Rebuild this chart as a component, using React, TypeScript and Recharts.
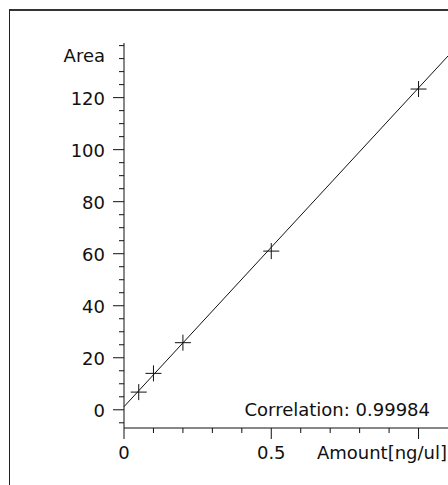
import { ComposedChart, Scatter, Line, XAxis, YAxis, Label } from 'recharts';

// calibration standards
const amounts = [0.05, 0.1, 0.2, 0.5, 1.0];
const areas = [6.8, 14, 25.8, 61, 123.3];

// fitted line end points (intercept ~1.2, slope ~122.6)
const fitX = [0, 1.1];
const fitY = [1.2, 136];

const xTicks = [0, 0.1, 0.2, 0.3, 0.4, 0.5, 0.6, 0.7, 0.8, 0.9, 1.0];
const xLabels = [0, 0.5];
const yTicks = [-5, 0, 5, 10, 15, 20, 25, 30, 35, 40, 45, 50, 55, 60, 65, 70, 75, 80, 85, 90, 95, 100, 105, 110, 115, 120, 125, 130, 135, 140];
const yLabels = [0, 20, 40, 60, 80, 100, 120];

const correlation = 'Correlation: 0.99984';

const points = amounts.map((x, i) => ({ x, y: areas[i] }));
const fitLine = fitX.map((x, i) => ({ x, y: fitY[i] }));

const ink = '#111';
const font = { fontFamily: '"DejaVu Sans", sans-serif', fontSize: 18, fill: ink };

const YTick = (props: any) => {
  const { x, y, payload } = props;
  const v = payload.value;
  const major = yLabels.includes(v);
  return (
    <g>
      <line x1={x - (major ? 11 : 5)} x2={x} y1={y} y2={y} stroke={ink} />
      {major && (
        <text x={x - 19} y={y} dy={7} textAnchor="end" {...font}>{v}</text>
      )}
    </g>
  );
};

const XTick = (props: any) => {
  const { x, y, payload } = props;
  const v = payload.value;
  const major = Math.abs(v * 2 - Math.round(v * 2)) < 1e-9;
  const labelled = xLabels.some((l) => Math.abs(l - v) < 1e-9);
  return (
    <g>
      <line x1={x} x2={x} y1={y} y2={y + (major ? 11 : 5)} stroke={ink} />
      {labelled && (
        <text x={x} y={y + 31} textAnchor="middle" {...font}>{v}</text>
      )}
    </g>
  );
};

const Cross = (props: any) => {
  const { cx, cy } = props;
  return (
    <path d={`M${cx - 8},${cy}H${cx + 8}M${cx},${cy - 8}V${cy + 8}`} stroke={ink} strokeWidth={1} fill="none" />
  );
};

export default function App() {
  return (
    <div style={{ position: 'fixed', left: 0, top: 0, width: 448, height: 485, overflow: 'hidden', background: '#fff' }}>
      <div style={{ position: 'absolute', left: 9, top: 9, width: 600, height: 600, borderLeft: '1.5px solid #222', borderTop: '2px solid #333' }} />
      <div style={{ position: 'absolute', left: 8, top: 8 }}>
        <ComposedChart width={450} height={477} margin={{ top: 35, right: 10, bottom: 7, left: 0 }}>
          <XAxis
            type="number"
            dataKey="x"
            domain={[0, 1.1]}
            ticks={xTicks}
            interval={0}
            height={50}
            tickSize={0}
            tickMargin={0}
            tickLine={false}
            axisLine={{ stroke: ink }}
            tick={XTick}
          >
            <Label
              content={({ viewBox }: any) => (
                <text x={viewBox.x + viewBox.width - 1} y={viewBox.y + 31} textAnchor="end" {...font}>Amount[ng/ul]</text>
              )}
            />
            <Label
              content={({ viewBox }: any) => (
                <text x={viewBox.x + viewBox.width - 18} y={viewBox.y - 12} textAnchor="end" {...font}>{correlation}</text>
              )}
            />
          </XAxis>
          <YAxis
            type="number"
            dataKey="y"
            domain={[-7, 141]}
            allowDataOverflow
            ticks={yTicks}
            interval={0}
            width={116}
            tickSize={0}
            tickMargin={0}
            tickLine={false}
            axisLine={{ stroke: ink }}
            tick={YTick}
          >
            <Label
              content={({ viewBox }: any) => (
                <text x={viewBox.x + viewBox.width - 19} y={viewBox.y + 19} textAnchor="end" {...font}>Area</text>
              )}
            />
          </YAxis>
          <Line data={fitLine} dataKey="y" stroke={ink} strokeWidth={1} dot={false} isAnimationActive={false} />
          <Scatter data={points} dataKey="y" shape={Cross} isAnimationActive={false} />
        </ComposedChart>
      </div>
    </div>
  );
}
